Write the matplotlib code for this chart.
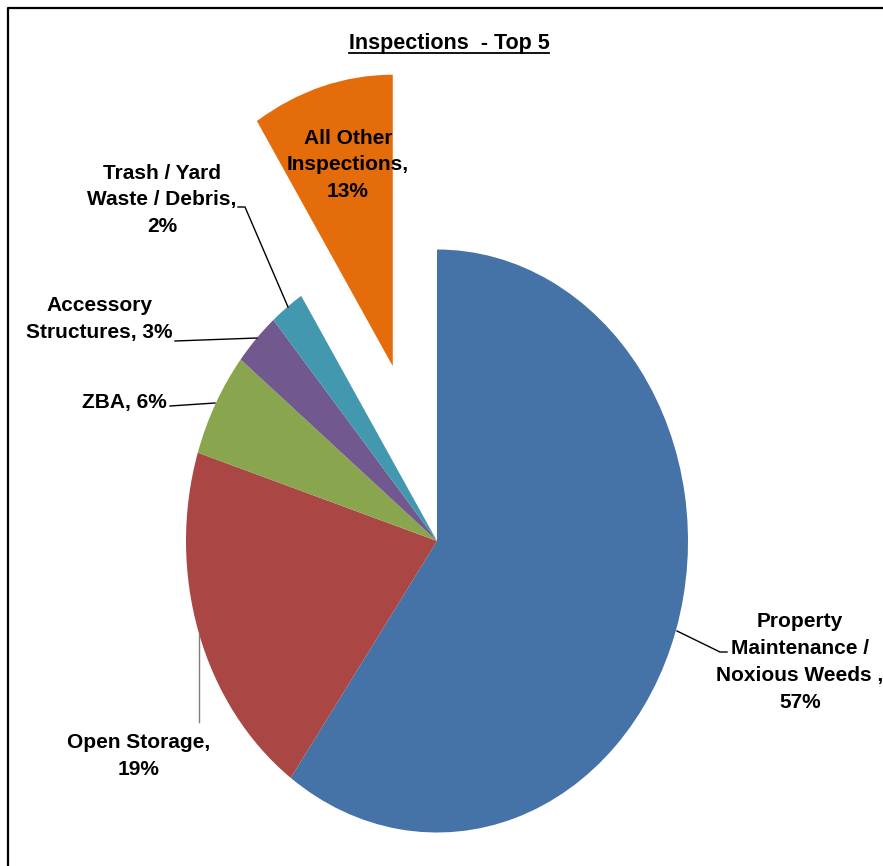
import matplotlib
matplotlib.use("Agg")
import matplotlib.pyplot as plt
from matplotlib.lines import Line2D

# ---- data ----
categories = ["Property Maintenance / Noxious Weeds", "Open Storage", "ZBA",
              "Accessory Structures", "Trash / Yard Waste / Debris", "All Other Inspections"]
# slice shares as drawn in the picture (percent of the circle)
slice_shares = [59.9, 20.0, 5.8, 3.0, 2.2, 9.1]
# percentages printed in the labels
label_pcts = [57, 19, 6, 3, 2, 13]
label_templates = ["Property\nMaintenance /\nNoxious Weeds ,\n{}%",
                   "Open Storage,\n{}%",
                   "ZBA, {}%",
                   "Accessory\nStructures, {}%",
                   "Trash / Yard\nWaste / Debris,\n{}%",
                   "All Other\nInspections,\n{}%"]
colors = ["#4572A7", "#AA4643", "#89A54E", "#71588F", "#4198AF", "#E46C0A"]
explode = [0, 0, 0, 0, 0, 0.625]

W, H = 883, 866
fig = plt.figure(figsize=(W / 100, H / 100), dpi=100)
fig.patch.set_facecolor("white")

def P(x, y):
    return (x / W, 1 - y / H)

FONT = ["Liberation Sans", "DejaVu Sans"]

ax = fig.add_axes([0, 0, 1, 1])
ax.pie(slice_shares, colors=colors, startangle=90, counterclock=False,
       explode=explode, radius=1, center=(0, 0), frame=False,
       wedgeprops=dict(linewidth=0))
ax.set_aspect("auto")
cx, cy, rx, ry = 437, 541, 251, 291.5
ax.set_xlim(-cx / rx, (W - cx) / rx)
ax.set_ylim(-(H - cy) / ry, cy / ry)
ax.axis("off")

# labels
label_pos = [(800, 662), (139, 756), (124, 403), (99, 319), (162, 200), (348, 165)]
for tmpl, pct, (lx, ly) in zip(label_templates, label_pcts, label_pos):
    fig.text(*P(lx, ly), tmpl.format(pct), ha="center", va="center",
             fontsize=15, fontweight="bold", family=FONT, linespacing=1.52,
             color="black")

# leader lines
leaders = [([677, 720, 727], [631, 652, 652], "black"),
           ([199, 199], [634, 722], "#7f7f7f"),
           ([170, 215], [406, 403], "black"),
           ([175, 257], [341, 338], "black"),
           ([238, 245, 288], [207, 207, 307], "black")]
for xs, ys, c in leaders:
    fig.add_artist(Line2D([x / W for x in xs], [1 - y / H for y in ys],
                          color=c, linewidth=1.0, transform=fig.transFigure))

# title
t = fig.text(*P(449, 43), "Inspections  - Top 5", ha="center", va="center",
             fontsize=15.5, fontweight="bold", family=FONT)
fig.canvas.draw()
bb = t.get_window_extent(fig.canvas.get_renderer())
uy = bb.y0 + 1
fig.add_artist(Line2D([bb.x0 / W, bb.x1 / W], [uy / H, uy / H], color="black",
                      linewidth=1.3, transform=fig.transFigure))

# border
fig.add_artist(Line2D([8 / W, 8 / W, 1], [0, 1 - 8 / H, 1 - 8 / H], color="black",
                      linewidth=1.6, transform=fig.transFigure))

fig.savefig("out.png", dpi=100)
